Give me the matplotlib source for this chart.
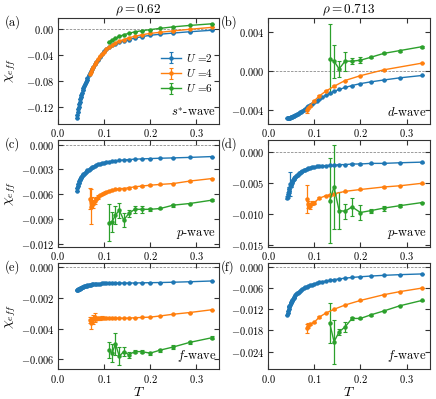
import numpy as np
import matplotlib
matplotlib.use('Agg')
import matplotlib.pyplot as plt
from matplotlib.ticker import FuncFormatter

plt.rcParams['font.family'] = 'serif'
plt.rcParams['font.serif'] = ['cmr10']
plt.rcParams['mathtext.fontset'] = 'cm'
plt.rcParams['axes.formatter.use_mathtext'] = True

# Temperatures (beta = 24 ... 3 in steps of 0.5)
T_all = [0.0417, 0.0426, 0.0435, 0.0444, 0.0455, 0.0465, 0.0476, 0.0488, 0.0500, 0.0513,
         0.0526, 0.0541, 0.0556, 0.0571, 0.0588, 0.0606, 0.0625, 0.0645, 0.0667, 0.0690,
         0.0714, 0.0741, 0.0769, 0.0800, 0.0833, 0.0870, 0.0909, 0.0952, 0.1000, 0.1053,
         0.1111, 0.1176, 0.1250, 0.1333, 0.1429, 0.1538, 0.1667, 0.1818, 0.2000, 0.2222,
         0.2500, 0.2857, 0.3333]
T_u4_left = T_all[19:]
T_u6_left = T_all[30:]
T_u6_right = T_all[33:]
T_u4_b = [0.0833, 0.0870, 0.0909, 0.1000, 0.1111, 0.1250, 0.1429, 0.1667, 0.2000, 0.2500, 0.3333]
T_u4_d = [0.0833, 0.0870, 0.0909, 0.0952, 0.1000, 0.1111, 0.1250, 0.1333, 0.1429, 0.1667,
          0.2000, 0.2500, 0.2857, 0.3333]
T_u4_f = [0.0833, 0.0870, 0.0909, 0.1000, 0.1111, 0.1250, 0.1429, 0.1667, 0.2000, 0.2500,
          0.2857, 0.3333]

# (a) rho=0.62, s*-wave
a_u2 = [-0.137, -0.133, -0.128, -0.124, -0.120, -0.116, -0.112, -0.108, -0.105, -0.101,
        -0.098, -0.094, -0.091, -0.088, -0.085, -0.081, -0.078, -0.075, -0.071, -0.068,
        -0.065, -0.061, -0.058, -0.054, -0.051, -0.047, -0.043, -0.039, -0.034, -0.030,
        -0.027, -0.0245, -0.022, -0.020, -0.018, -0.016, -0.0135, -0.0115, -0.0093, -0.0076,
        -0.0058, -0.0038, -0.0015]
a_u4 = [-0.070, -0.066, -0.062, -0.058, -0.054, -0.050, -0.046, -0.042, -0.039, -0.035,
        -0.031, -0.027, -0.024, -0.021, -0.018, -0.016, -0.013, -0.011, -0.0085, -0.0064,
        -0.0046, -0.0025, 0.0000, 0.0030]
a_u6 = [-0.0196, -0.0165, -0.0138, -0.0110, -0.0085, -0.0062, -0.0040, -0.0022, -0.0005,
        0.0015, 0.0038, 0.0060, 0.0085]

# (b) rho=0.713, d-wave
b_u2 = [-0.00490, -0.00490, -0.00489, -0.00488, -0.00487, -0.00485, -0.00484, -0.00482,
        -0.00480, -0.00478, -0.00475, -0.00472, -0.00468, -0.00465, -0.00460, -0.00455,
        -0.00450, -0.00444, -0.00437, -0.00430, -0.00421, -0.00412, -0.00402, -0.00391,
        -0.00379, -0.00366, -0.00352, -0.00338, -0.00323, -0.00307, -0.00290, -0.00272,
        -0.00252, -0.00232, -0.00212, -0.00193, -0.00172, -0.00152, -0.00132, -0.00114,
        -0.00095, -0.00072, -0.00048]
b_u4 = [-0.0041, -0.0038, -0.0036, -0.0031, -0.0026, -0.0021, -0.0016, -0.0010, -0.0005,
        0.0001, 0.0008]
b_u4_err = [0.0003, 0.0001, 0.0001, 0.0001, 0.0001, 0.0001, 0.0001, 0.0, 0.0, 0.0, 0.0]
b_u6 = [0.0012, 0.0010, 0.0002, 0.0010, 0.0010, 0.0011, 0.0014, 0.0018, 0.0021, 0.0025]
b_u6_err = [0.0036, 0.0017, 0.0008, 0.0010, 0.0003, 0.0003, 0.0001, 0.0001, 0.0001, 0.0001]

# (c) rho=0.62, p-wave
c_u2 = [-0.00555, -0.00520, -0.00495, -0.00475, -0.00458, -0.00443, -0.00430, -0.00417,
        -0.00405, -0.00393, -0.00382, -0.00371, -0.00360, -0.00350, -0.00340, -0.00330,
        -0.00320, -0.00310, -0.00301, -0.00292, -0.00283, -0.00274, -0.00265, -0.00256,
        -0.00248, -0.00240, -0.00232, -0.00225, -0.00218, -0.00212, -0.00206, -0.00200,
        -0.00195, -0.00190, -0.00185, -0.00181, -0.00177, -0.00173, -0.00169, -0.00165,
        -0.00161, -0.00155, -0.00145]
c_u4 = [-0.0065, -0.0075, -0.0070, -0.0072, -0.0068, -0.0065, -0.0063, -0.0061, -0.0060,
        -0.0058, -0.0057, -0.0056, -0.0055, -0.0054, -0.0053, -0.0053, -0.0052, -0.0051,
        -0.0050, -0.0049, -0.0048, -0.0047, -0.0044, -0.0041]
c_u4_err = [0.0013, 0.0021, 0.0007, 0.0005, 0.0004, 0.0002, 0.0002, 0.0001, 0.0001, 0.0001,
            0.0001, 0.0001, 0.0001, 0.0001, 0.0001, 0.0001, 0.0001, 0.0001, 0.0001, 0.0001,
            0.0001, 0.0001, 0.0001, 0.0001]
c_u6 = [-0.0094, -0.0093, -0.0085, -0.0079, -0.0091, -0.0083, -0.0078, -0.0078, -0.0078,
        -0.0077, -0.0073, -0.0071, -0.0067]
c_u6_err = [0.0022, 0.0012, 0.0011, 0.0009, 0.0008, 0.0004, 0.0004, 0.0004, 0.0002, 0.0001,
            0.0002, 0.0001, 0.0001]

# (d) rho=0.713, p-wave
d_u2 = [-0.0074, -0.0071, -0.0068, -0.0065, -0.0062, -0.0059, -0.0052, -0.0055, -0.0052,
        -0.0050, -0.0048, -0.0046, -0.0044, -0.0043, -0.0041, -0.0040, -0.0038, -0.0037,
        -0.0035, -0.0034, -0.0033, -0.0031, -0.0030, -0.0029, -0.0028, -0.0027, -0.0026,
        -0.0025, -0.0025, -0.0024, -0.0024, -0.0023, -0.0023, -0.0022, -0.0022, -0.0021,
        -0.0021, -0.0020, -0.0020, -0.0019, -0.0019, -0.0018, -0.0017]
d_u2_err = [0.0003, 0.0003, 0.0003, 0.0002, 0.0002, 0.0002, 0.0019, 0.0002, 0.0002, 0.0001,
            0.0001, 0.0001, 0.0001, 0.0001, 0.0001, 0.0001, 0.0001, 0.0001, 0.0001, 0.0001,
            0.0001, 0.0001, 0.0001, 0.0001, 0.0001, 0.0001, 0.0001, 0.0001, 0.0001, 0.0001,
            0.0001, 0.0001, 0.0001, 0.0001, 0.0001, 0.0001, 0.0001, 0.0001, 0.0001, 0.0001,
            0.0001, 0.0001, 0.0001]
d_u4 = [-0.0076, -0.0085, -0.0087, -0.0083, -0.0082, -0.0075, -0.0071, -0.0070, -0.0068,
        -0.0064, -0.0061, -0.0057, -0.0055, -0.0051]
d_u4_err = [0.0022, 0.0005, 0.0005, 0.0003, 0.0002, 0.0002, 0.0001, 0.0001, 0.0001, 0.0001,
            0.0001, 0.0001, 0.0001, 0.0001]
d_u6 = [-0.0079, -0.0057, -0.0095, -0.0096, -0.0089, -0.0098, -0.0095, -0.0091, -0.0087,
        -0.0082]
d_u6_err = [0.0068, 0.0068, 0.0030, 0.0012, 0.0015, 0.0012, 0.0003, 0.0004, 0.0002, 0.0001]

# (e) rho=0.62, f-wave
e_u2 = [-0.00152, -0.00150, -0.00148, -0.00146, -0.00144, -0.00142, -0.00140, -0.00138,
        -0.00136, -0.00134, -0.00132, -0.00130, -0.00128, -0.00126, -0.00124, -0.00122,
        -0.00121, -0.00119, -0.00118, -0.00116, -0.00115, -0.00113, -0.00112, -0.00111,
        -0.00110, -0.00109, -0.00108, -0.00107, -0.00106, -0.00106, -0.00105, -0.00105,
        -0.00104, -0.00104, -0.00104, -0.00104, -0.00104, -0.00103, -0.00102, -0.00101,
        -0.00099, -0.00096, -0.00091]
e_u4 = [-0.00345, -0.00365, -0.00345, -0.00340, -0.00328, -0.00335, -0.00333, -0.00332,
        -0.00331, -0.00331, -0.00332, -0.00331, -0.00331, -0.00332, -0.00332, -0.00333,
        -0.00332, -0.00330, -0.00328, -0.00326, -0.00318, -0.00307, -0.00296, -0.00278]
e_u4_err = [0.0002, 0.0004, 0.0002, 0.0003, 0.0003, 0.0001, 0.0001, 0.0001, 0.0001, 0.0,
            0.0, 0.0, 0.0, 0.0, 0.0, 0.0, 0.0, 0.0, 0.0, 0.0, 0.0, 0.0, 0.0, 0.0]
e_u6 = [-0.0054, -0.0056, -0.0050, -0.0058, -0.0055, -0.0057, -0.0055, -0.0055, -0.0056,
        -0.0054, -0.0052, -0.0049, -0.0046]
e_u6_err = [0.0005, 0.0006, 0.0007, 0.0006, 0.0003, 0.0002, 0.0001, 0.0001, 0.0001, 0.0001,
            0.0001, 0.0001, 0.0001]

# (f) rho=0.713, f-wave
f_u2 = [-0.0136, -0.0130, -0.0125, -0.0120, -0.0115, -0.0111, -0.0107, -0.0103, -0.0099,
        -0.0096, -0.0093, -0.0090, -0.0087, -0.0084, -0.0081, -0.0078, -0.0075, -0.0073,
        -0.0070, -0.0068, -0.0065, -0.0063, -0.0060, -0.0058, -0.0056, -0.0054, -0.0052,
        -0.0050, -0.0048, -0.0046, -0.0044, -0.0042, -0.0040, -0.0038, -0.0036, -0.0034,
        -0.0032, -0.0030, -0.0028, -0.0026, -0.0024, -0.0022, -0.0020]
f_u4 = [-0.0174, -0.0166, -0.0162, -0.0157, -0.0142, -0.0131, -0.0120, -0.0108, -0.0095,
        -0.0079, -0.0070, -0.0060]
f_u4_err = [0.0013, 0.0006, 0.0003, 0.0002, 0.0002, 0.0001, 0.0001, 0.0001, 0.0001, 0.0001,
            0.0001, 0.0001]
f_u6 = [-0.0158, -0.0212, -0.0184, -0.0170, -0.0146, -0.0146, -0.0136, -0.0125, -0.0110,
        -0.0095]
f_u6_err = [0.0057, 0.0062, 0.0008, 0.0014, 0.0003, 0.0002, 0.0002, 0.0001, 0.0001, 0.0001]

U_labels = [r'$U$ =2', r'$U$ =4', r'$U$ =6']
rho_titles = [r'$\rho=0.62$', r'$\rho=0.713$']

# panel setup: series, ylim, yticks, tick format, wave label
panels = [
    dict(tag='(a)', s=[(T_all, a_u2, 0.0), (T_u4_left, a_u4, 0.0), (T_u6_left, a_u6, 0.0)],
         ylim=(-0.1467, 0.018), yt=[0.0, -0.04, -0.08, -0.12], fmt='%.2f', wave=r'$s^{*}$-wave'),
    dict(tag='(b)', s=[(T_all, b_u2, 0.0), (T_u4_b, b_u4, b_u4_err), (T_u6_right, b_u6, b_u6_err)],
         ylim=(-0.0055, 0.0055), yt=[0.004, 0.0, -0.004], fmt='%.3f', wave=r'$d$-wave'),
    dict(tag='(c)', s=[(T_all, c_u2, 0.0), (T_u4_left, c_u4, c_u4_err), (T_u6_left, c_u6, c_u6_err)],
         ylim=(-0.0123, 0.0005), yt=[0.0, -0.003, -0.006, -0.009, -0.012], fmt='%.3f', wave=r'$p$-wave'),
    dict(tag='(d)', s=[(T_all, d_u2, d_u2_err), (T_u4_d, d_u4, d_u4_err), (T_u6_right, d_u6, d_u6_err)],
         ylim=(-0.0153, 0.0018), yt=[0.0, -0.005, -0.010, -0.015], fmt='%.3f', wave=r'$p$-wave'),
    dict(tag='(e)', s=[(T_all, e_u2, 0.0), (T_u4_left, e_u4, e_u4_err), (T_u6_left, e_u6, e_u6_err)],
         ylim=(-0.00665, 0.00026), yt=[0.0, -0.002, -0.004, -0.006], fmt='%.3f', wave=r'$f$-wave'),
    dict(tag='(f)', s=[(T_all, f_u2, 0.0), (T_u4_f, f_u4, f_u4_err), (T_u6_right, f_u6, f_u6_err)],
         ylim=(-0.029, 0.0011), yt=[0.0, -0.006, -0.012, -0.018, -0.024], fmt='%.3f', wave=r'$f$-wave'),
]

colors = ['C0', 'C1', 'C2']
spine_col = '#333333'

fig = plt.figure(figsize=(4.36, 3.99), dpi=100)
lefts = [0.1323, 0.6147]
bottoms = [0.6892, 0.3817, 0.0744]
w, h = 0.3710, 0.2665

for k, p in enumerate(panels):
    row, col = k // 2, k % 2
    ax = fig.add_axes([lefts[col], bottoms[row], w, h])
    for (T, y, e), c, lab in zip(p['s'], colors, U_labels):
        ax.errorbar(T, y, yerr=e, color=c, marker='o', ms=2.2, lw=1.0,
                    elinewidth=0.9, capsize=1.5, capthick=0.8, label=lab)
    ax.axhline(0, color='0.55', lw=0.6, ls=(0, (3, 1.5)), zorder=0)
    ax.set_xlim(0, 0.35)
    ax.set_ylim(*p['ylim'])
    ax.set_xticks([0.0, 0.1, 0.2, 0.3])
    ax.set_yticks(p['yt'])
    ax.xaxis.set_major_formatter(FuncFormatter(lambda v, pos: '$%.1f$' % v))
    ax.yaxis.set_major_formatter(FuncFormatter(lambda v, pos, f=p['fmt']: '$' + (f % v) + '$'))
    ax.tick_params(direction='in', top=True, right=True, length=3.5, width=0.8,
                   labelsize=7.5, pad=2.5, color=spine_col)
    for sp in ax.spines.values():
        sp.set_color(spine_col)
        sp.set_linewidth(0.8)
    ax.text(0.98, 0.05, p['wave'], transform=ax.transAxes, ha='right', va='bottom', fontsize=9)
    ax.text(-0.33 if col == 0 else -0.29, 0.96, p['tag'], transform=ax.transAxes,
            ha='left', va='center', fontsize=9)
    if row == 0:
        ax.set_title(rho_titles[col], fontsize=9.5, pad=3)
    if col == 0:
        ax.set_ylabel(r'$\chi_{eff}$', fontsize=10)
        ax.yaxis.set_label_coords(-0.245, 0.5)
    if row == 2:
        ax.set_xlabel(r'$T$', fontsize=10, labelpad=1)
    if k == 0:
        ax.legend(loc='center right', bbox_to_anchor=(1.02, 0.48), frameon=False,
                  fontsize=8, handlelength=1.8, handletextpad=0.4, labelspacing=0.3)

fig.savefig('out.png', dpi=100)
